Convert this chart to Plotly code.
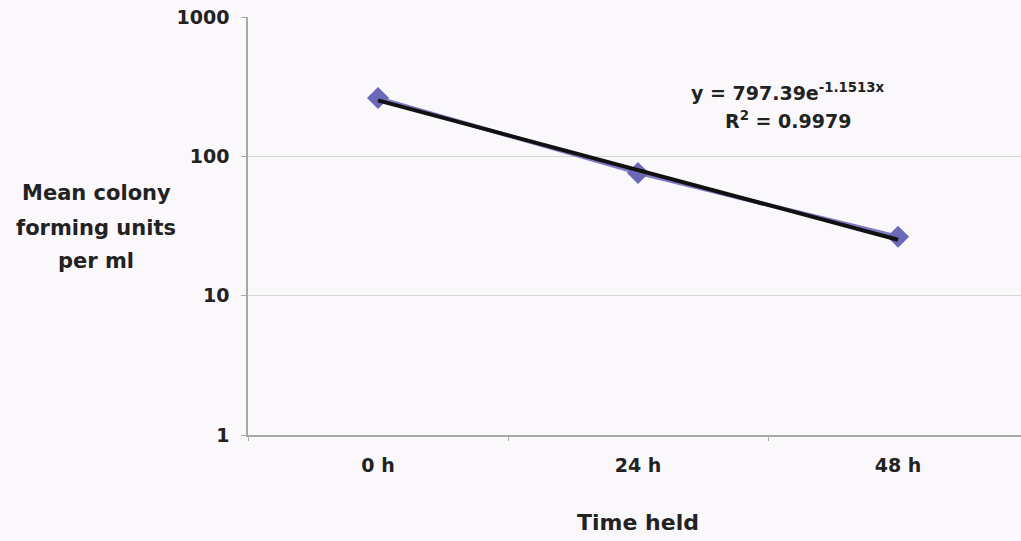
import plotly.graph_objects as go

categories = ["0 h", "24 h", "48 h"]
cfu_values = [262, 76, 26.5]
trend_values = [252, 25.2]
trend_categories = ["0 h", "48 h"]
y_ticks = [1, 10, 100, 1000]
y_title_lines = ["Mean colony", "forming units", "per ml"]
equation_lines = ["y = 797.39e<sup>-1.1513x</sup>", "R<sup>2</sup> = 0.9979"]
x_title = "Time held"

font_family = "DejaVu Sans, Verdana, sans-serif"
bg = "#fbf8fc"
txt = "#222222"

fig = go.Figure()
fig.add_trace(go.Scatter(
    x=categories, y=cfu_values, mode="lines+markers",
    line=dict(color="#7f7bc4", width=4),
    marker=dict(symbol="diamond", size=17, color="#6c68b8"),
    showlegend=False,
))
fig.add_trace(go.Scatter(
    x=trend_categories, y=trend_values, mode="lines",
    line=dict(color="#111111", width=4),
    showlegend=False,
))

fig.update_layout(
    width=1021, height=541,
    margin=dict(l=248, r=0, t=17, b=106),
    paper_bgcolor=bg, plot_bgcolor=bg,
    font=dict(family=font_family, color=txt),
    xaxis=dict(
        type="category", range=[-0.5, 2.473],
        tickvals=categories, ticktext=["<b>%s</b>" % c for c in categories],
        showline=True, linecolor="#a8a8a8", linewidth=1.5,
        ticks="outside", tickson="boundaries", ticklen=4, tickcolor="#a8a8a8",
        showgrid=False, ticklabelstandoff=12,
        tickfont=dict(size=19, family=font_family, color=txt),
    ),
    yaxis=dict(
        type="log", range=[0, 3],
        tickvals=y_ticks, ticktext=["<b>%d</b>" % v for v in y_ticks],
        showline=True, linecolor="#a8a8a8", linewidth=1.5,
        ticks="outside", ticklen=5, tickcolor="#a8a8a8",
        gridcolor="#d6d6d6", gridwidth=1.2, ticklabelstandoff=8,
        tickfont=dict(size=19, family=font_family, color=txt),
        zeroline=False,
    ),
)

for line, ypos in zip(y_title_lines, [0.579, 0.495, 0.416]):
    fig.add_annotation(
        text="<b>%s</b>" % line,
        xref="paper", yref="paper", x=-0.1966, y=ypos, xanchor="center", yanchor="middle",
        showarrow=False, font=dict(size=21, family=font_family, color=txt),
    )
for line, ypos in zip(equation_lines, [0.8206, 0.7536]):
    fig.add_annotation(
        text="<b>%s</b>" % line,
        xref="paper", yref="paper", x=0.6986, y=ypos, xanchor="center", yanchor="middle",
        showarrow=False, font=dict(size=19, family=font_family, color=txt),
    )
fig.add_annotation(
    text="<b>%s</b>" % x_title,
    xref="paper", yref="paper", x=0.505, y=-0.2105, xanchor="center", yanchor="middle",
    showarrow=False, font=dict(size=22, family=font_family, color=txt),
)

fig.write_html("out.html")
